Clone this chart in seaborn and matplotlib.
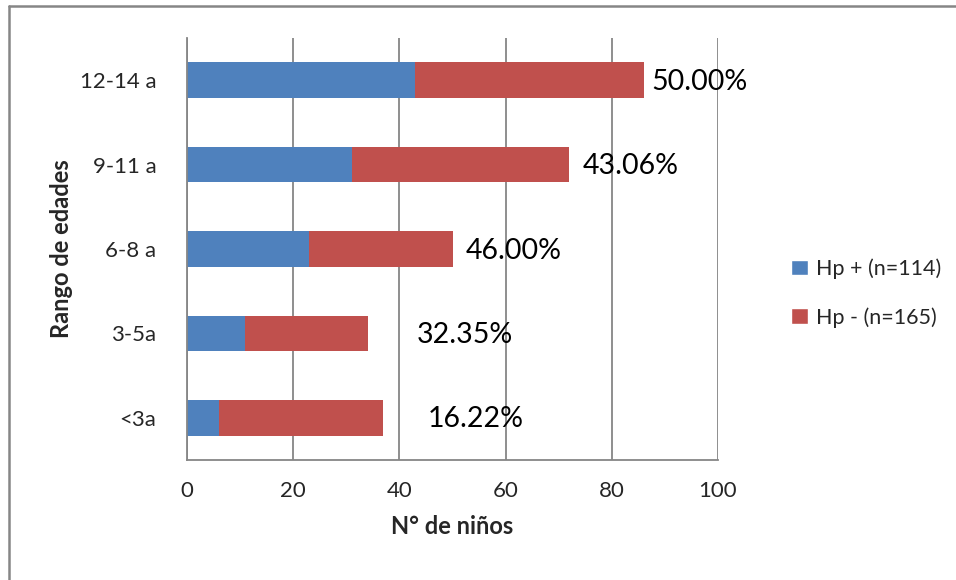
import matplotlib
matplotlib.use("Agg")
import matplotlib.pyplot as plt
import seaborn as sns
import pandas as pd
from matplotlib.patches import Patch
from matplotlib.lines import Line2D

categories = ["12-14 a", "9-11 a", "6-8 a", "3-5a", "<3a"]
hp_pos = [43, 31, 23, 11, 6]
hp_neg = [43, 41, 27, 23, 31]
pct_labels = ["50.00%", "43.06%", "46.00%", "32.35%", "16.22%"]
series_names = ["Hp + (n=114)", "Hp - (n=165)"]
x_ticks = [0, 20, 40, 60, 80, 100]

label_offsets = [1.4, 2.6, 2.4, 9.3, 8.4]

sns.set_style("white")
plt.rcParams['font.family'] = ['Lato', 'DejaVu Sans']

df = pd.DataFrame({"cat": categories, "pos": hp_pos, "neg": hp_neg})
df["total"] = df["pos"] + df["neg"]

blue = "#4F81BD"
red = "#C0504D"
grid_c = "#868686"

fig = plt.figure(figsize=(9.56, 5.8), dpi=100)
ax = fig.add_axes([187/956, 1 - 460/580, (718-187)/956, (460-38)/580])

sns.barplot(data=df, y="cat", x="total", color=red, orient="h", width=0.42,
            ax=ax, saturation=1, order=categories, linewidth=0)
sns.barplot(data=df, y="cat", x="pos", color=blue, orient="h", width=0.42,
            ax=ax, saturation=1, order=categories, linewidth=0)

for i, (tot, lab, off) in enumerate(zip(df["total"], pct_labels, label_offsets)):
    ax.text(tot + off, i + 0.02, lab, ha="left", va="center", fontsize=20.5, color="black")

ax.set_xlim(0, 100)
ax.set_ylim(len(categories) - 0.5, -0.5)
ax.set_xticks(x_ticks)
ax.set_xticklabels([str(t) for t in x_ticks], fontsize=16)
ax.set_yticks(range(len(categories)))
ax.set_yticklabels(categories, fontsize=16)
ax.set_yticks([i - 0.5 for i in range(len(categories) + 1)], minor=True)
ax.tick_params(axis="y", which="major", length=0, pad=22)
ax.tick_params(axis="y", which="minor", length=5, color=grid_c, width=1.3, direction="out")
ax.tick_params(axis="x", which="major", length=5, color=grid_c, width=1.3, direction="out", pad=10)

ax.grid(axis="x", color=grid_c, linewidth=1.3)
ax.set_axisbelow(True)
for s in ["top", "right"]:
    ax.spines[s].set_visible(False)
for s in ["left", "bottom"]:
    ax.spines[s].set_color(grid_c)
    ax.spines[s].set_linewidth(1.3)

ax.set_xlabel("N° de niños", fontsize=17, fontweight="bold", labelpad=10)
ax.set_ylabel("Rango de edades", fontsize=17, fontweight="bold", labelpad=5)

handles = [Patch(facecolor=blue), Patch(facecolor=red)]
fig.legend(handles, series_names, loc="center left", bbox_to_anchor=(772/956, 1 - 293/580),
           frameon=False, fontsize=15.5, handlelength=0.75, handleheight=0.75,
           labelspacing=1.3, handletextpad=0.4)

fig.lines.append(Line2D([8.5/956, 8.5/956], [0, 1 - 5.5/580], transform=fig.transFigure,
                        color=grid_c, linewidth=1.8))
fig.lines.append(Line2D([8.5/956, 1], [1 - 5.5/580, 1 - 5.5/580], transform=fig.transFigure,
                        color=grid_c, linewidth=1.8))

fig.savefig("out.png", dpi=100)
